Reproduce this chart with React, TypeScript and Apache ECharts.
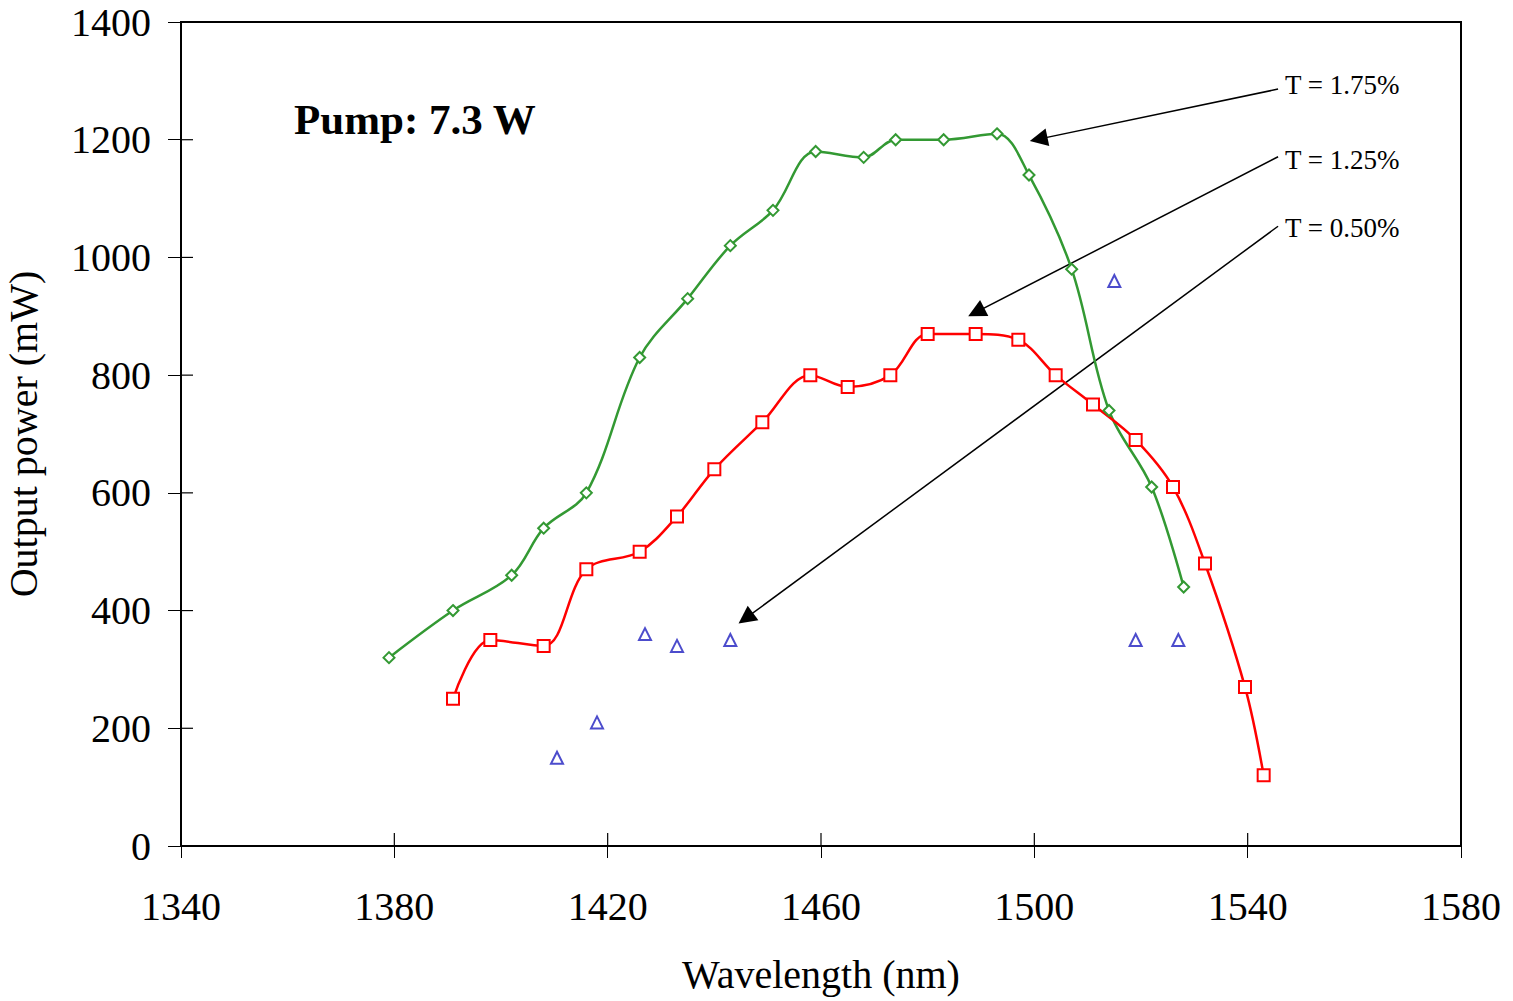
import React, { useEffect, useRef } from "react";
import * as echarts from "echarts";

const FONT = "'Liberation Serif', 'Times New Roman', serif";

const green175: [number, number][] = [
  [1379, 320], [1391, 400], [1402, 460], [1408, 540], [1416, 600],
  [1426, 830], [1435, 930], [1443, 1020], [1451, 1080], [1459, 1180],
  [1468, 1170], [1474, 1200], [1483, 1200], [1493, 1210], [1499, 1140],
  [1507, 980], [1514, 740], [1522, 610], [1528, 440],
];

const red125: [number, number][] = [
  [1391, 250], [1398, 350], [1408, 340], [1416, 470], [1426, 500],
  [1433, 560], [1440, 640], [1449, 720], [1458, 800], [1465, 780],
  [1473, 800], [1480, 870], [1489, 870], [1497, 860], [1504, 800],
  [1511, 750], [1519, 690], [1526, 610], [1532, 480], [1539.5, 270],
  [1543, 120],
];

const blue050: [number, number][] = [
  [1410.5, 150], [1418, 210], [1427, 360], [1433, 340], [1443, 350],
  [1515, 960], [1519, 350], [1527, 350],
];

const xTicks = [1340, 1380, 1420, 1460, 1500, 1540, 1580];
const yTicks = [0, 200, 400, 600, 800, 1000, 1200, 1400];

const arrowLabels = ["T = 1.75%", "T = 1.25%", "T = 0.50%"];
const arrows: [number, number][][] = [
  [[1545.7, 1286], [1500.8, 1201]],
  [[1545.7, 1171], [1489.1, 907]],
  [[1545.7, 1053], [1445.9, 387]],
];

export default function App() {
  const ref = useRef<HTMLDivElement>(null);
  useEffect(() => {
    if (!ref.current) return;
    const chart = echarts.init(ref.current, null, { renderer: "svg" });
    const fmt = (v: number) => String(v);
    const texts: any[] = [
      {
        type: "text",
        left: 294,
        top: 98,
        style: {
          text: "Pump: 7.3 W",
          fontFamily: FONT,
          fontSize: 43,
          fontWeight: "bold",
          fill: "#000",
        },
      },
      ...arrowLabels.map((t, i) => ({
        type: "text",
        left: 1285,
        top: [71, 146, 214][i],
        style: { text: t, fontFamily: FONT, fontSize: 27, fill: "#000" },
      })),
    ];
    chart.setOption({
      animation: false,
      backgroundColor: "#fff",
      grid: {
        left: 181,
        right: 52,
        top: 22,
        bottom: 155,
        show: true,
        borderColor: "#000",
        borderWidth: 2,
        backgroundColor: "transparent",
        outerBoundsMode: "none",
        containLabel: false,
      },
      xAxis: {
        type: "value",
        min: 1340,
        max: 1580,
        interval: 40,
        splitLine: { show: false },
        position: "bottom",
        name: "Wavelength (nm)",
        nameLocation: "middle",
        nameGap: 108,
        nameTextStyle: { fontFamily: FONT, fontSize: 40, color: "#000" },
        axisLine: { show: true, lineStyle: { color: "#000", width: 2 } },
        axisTick: { show: true, length: 12, lineStyle: { color: "#000", width: 1 } },
        axisLabel: { fontFamily: FONT, fontSize: 40, color: "#000", margin: 40, formatter: fmt },
      },
      yAxis: {
        type: "value",
        min: 0,
        max: 1400,
        interval: 200,
        splitLine: { show: false },
        position: "left",
        name: "Output power (mW)",
        nameLocation: "middle",
        nameGap: 138,
        nameTextStyle: { fontFamily: FONT, fontSize: 40, color: "#000" },
        axisLine: { show: true, lineStyle: { color: "#000", width: 2 } },
        axisTick: { show: true, length: 13, lineStyle: { color: "#000", width: 1 } },
        axisLabel: { fontFamily: FONT, fontSize: 40, color: "#000", margin: 30, formatter: fmt },
      },
      graphic: texts,
      series: [
        {
          type: "line",
          name: "T = 1.75%",
          data: green175,
          smooth: 0.35,
          symbol: "emptyDiamond",
          symbolSize: 11,
          lineStyle: { color: "#339933", width: 2.5 },
          itemStyle: { color: "#339933", borderColor: "#339933", borderWidth: 2 },
        },
        {
          type: "line",
          name: "T = 1.25%",
          data: red125,
          smooth: 0.35,
          symbol: "emptyRect",
          symbolSize: 12,
          lineStyle: { color: "#ff0000", width: 2.5 },
          itemStyle: { color: "#ff0000", borderColor: "#ff0000", borderWidth: 2 },
        },
        {
          type: "scatter",
          name: "T = 0.50%",
          data: blue050,
          symbol: "emptyTriangle",
          symbolSize: 12,
          itemStyle: { color: "#1f1fbf", borderColor: "#1f1fbf", borderWidth: 2.4 },
        },
        {
          type: "lines",
          coordinateSystem: "cartesian2d",
          data: arrows.map((c) => ({ coords: c })),
          symbol: ["none", "triangle"],
          symbolSize: [15, 18],
          lineStyle: { color: "#000", width: 1.5, opacity: 1 },
          itemStyle: { color: "#000" },
          silent: true,
        },
      ],
    });
    // inner halves of the crossing tick marks
    const tickEls: any[] = [];
    try {
      const toPx = (x: number, y: number) =>
        chart.convertToPixel({ xAxisIndex: 0, yAxisIndex: 0 }, [x, y]) as number[];
      const origin = toPx(1340, 0);
      xTicks.forEach((v) => {
        const p = toPx(v, 0);
        tickEls.push({
          type: "line",
          silent: true,
          z: 50,
          shape: { x1: p[0], y1: origin[1], x2: p[0], y2: origin[1] - 13 },
          style: { stroke: "#000", lineWidth: 1.2 },
        });
      });
      yTicks.forEach((v) => {
        const p = toPx(1340, v);
        tickEls.push({
          type: "line",
          silent: true,
          z: 50,
          shape: { x1: origin[0], y1: p[1], x2: origin[0] + 12, y2: p[1] },
          style: { stroke: "#000", lineWidth: 1.2 },
        });
      });
    } catch (e) {
      // keep chart without inner tick halves
    }
    chart.setOption({ graphic: [...texts, ...tickEls] });
    return () => chart.dispose();
  }, []);
  return (
    <div
      ref={ref}
      style={{ position: "fixed", left: 0, top: 0, width: 1513, height: 1001, background: "#fff" }}
    />
  );
}
